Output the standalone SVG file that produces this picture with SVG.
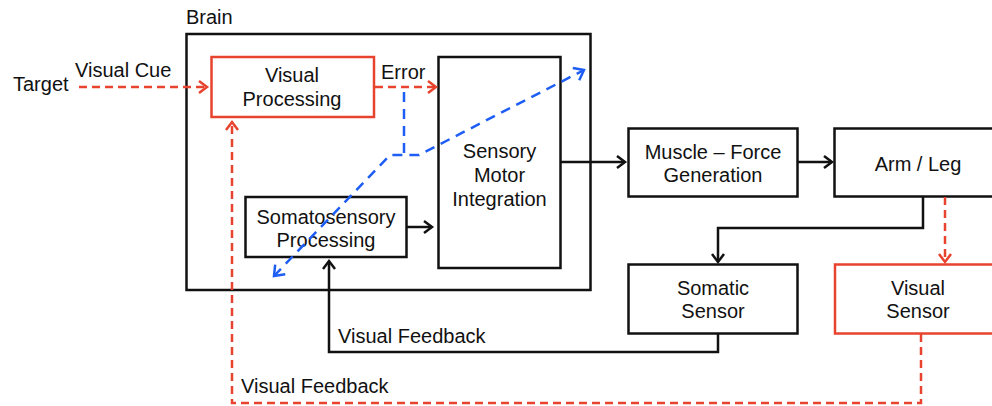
<svg xmlns="http://www.w3.org/2000/svg" width="992" height="406" viewBox="0 0 992 406">
<style>
text{font-family:"Liberation Sans",Arial,sans-serif;font-size:20px;fill:#111}
.c{text-anchor:middle}
.box{fill:#fff;stroke:#111;stroke-width:2.5}
.rbox{fill:#fff;stroke:#e8432e;stroke-width:2.5}
.bl{fill:none;stroke:#111;stroke-width:2.5}
.rd{fill:none;stroke:#e8432e;stroke-width:2.5;stroke-dasharray:8 5}
.bd{fill:none;stroke:#1f5ef5;stroke-width:2.5;stroke-dasharray:10 7}
</style>
<defs>
<marker id="ak" markerUnits="userSpaceOnUse" markerWidth="14" markerHeight="16" refX="10" refY="7" orient="auto"><path d="M2,1 L10,7 L2,13" fill="none" stroke="#111" stroke-width="2.5"/></marker>
<marker id="ar" markerUnits="userSpaceOnUse" markerWidth="14" markerHeight="16" refX="10" refY="7" orient="auto"><path d="M2,1 L10,7 L2,13" fill="none" stroke="#e8432e" stroke-width="2.5"/></marker>
<marker id="ab" markerUnits="userSpaceOnUse" markerWidth="16" markerHeight="18" refX="11" refY="8" orient="auto-start-reverse"><path d="M2,1 L11,8 L2,15" fill="none" stroke="#1f5ef5" stroke-width="2.5"/></marker>
</defs>
<g id="brain"><rect class="box" x="186.5" y="34" width="404" height="256" fill="none"/><text x="186" y="24">Brain</text></g>
<g id="target-label"><text x="13" y="91">Target</text><text x="75" y="77">Visual Cue</text><text x="381" y="79">Error</text></g>
<g id="visual-processing"><rect class="rbox" x="211.5" y="57" width="162.5" height="60"/><text class="c" x="292" y="82">Visual</text><text class="c" x="292" y="106">Processing</text></g>
<g id="sensory-motor"><rect class="box" x="438.5" y="57" width="122" height="211"/><text class="c" x="499.5" y="158">Sensory</text><text class="c" x="499.5" y="182">Motor</text><text class="c" x="499.5" y="206">Integration</text></g>
<g id="somatosensory"><rect class="box" x="245.5" y="197" width="161" height="60"/><text class="c" x="326" y="224">Somatosensory</text><text class="c" x="326" y="247">Processing</text></g>
<g id="muscle"><rect class="box" x="628.5" y="128.5" width="169" height="68"/><text class="c" x="713" y="159">Muscle – Force</text><text class="c" x="713" y="182">Generation</text></g>
<g id="arm-leg"><rect class="box" x="834.5" y="128.5" width="170" height="68"/><text class="c" x="918" y="171">Arm / Leg</text></g>
<g id="somatic-sensor"><rect class="box" x="628.5" y="264.5" width="169" height="69"/><text class="c" x="713" y="295">Somatic</text><text class="c" x="713" y="318">Sensor</text></g>
<g id="visual-sensor"><rect class="rbox" x="835" y="264.5" width="170" height="69"/><text class="c" x="918" y="295">Visual</text><text class="c" x="918" y="318">Sensor</text></g>
<g id="connectors">
<path class="rd" d="M79,87 L207,87" marker-end="url(#ar)"/>
<path class="rd" d="M375,87 L436,87" marker-end="url(#ar)"/>
<path class="bd" d="M274,276 L390,155 L419,155 L584,70" marker-start="url(#ab)" marker-end="url(#ab)"/>
<path class="bd" d="M404,92 L404,155"/>
<path class="bl" d="M406,227 L432,227" marker-end="url(#ak)"/>
<path class="bl" d="M561,162 L625,162" marker-end="url(#ak)"/>
<path class="bl" d="M797,162 L832,162" marker-end="url(#ak)"/>
<path class="bl" d="M923,196 L923,228 L718,228 L718,262" marker-end="url(#ak)"/>
<path class="rd" d="M945,197 L945,262" marker-end="url(#ar)"/>
<path class="bl" d="M718,333 L718,352 L329,352 L329,261" marker-end="url(#ak)"/>
<path class="rd" d="M921,334 L921,403 L232,403 L232,122" marker-end="url(#ar)"/>
<text x="338" y="343">Visual Feedback</text>
<text x="241" y="393">Visual Feedback</text>
</g>
</svg>
